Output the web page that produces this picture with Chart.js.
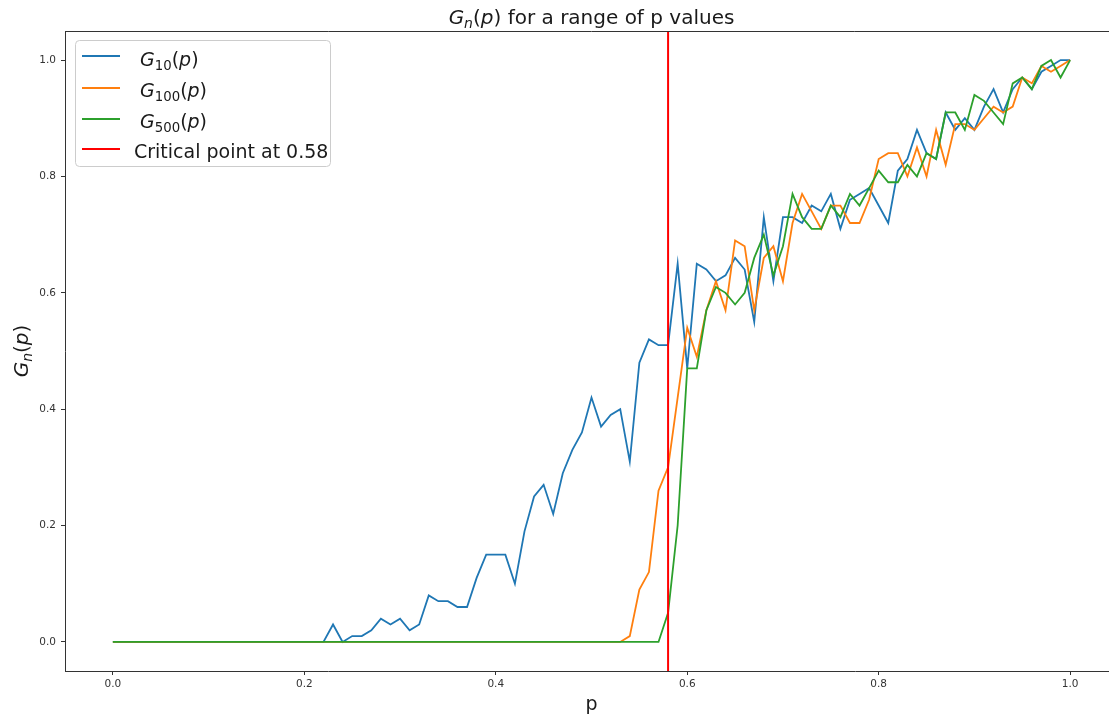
<!DOCTYPE html>
<html><head><meta charset="utf-8">
<script src="https://cdn.jsdelivr.net/npm/chart.js@4"></script>
<style>
html,body{margin:0;padding:0;overflow:hidden;background:#fff}
#wrap{position:relative;width:1130px;height:715px}
canvas{display:block}
</style></head><body><div id="wrap"><canvas id="c" width="1130" height="715"></canvas></div>
<script>
const pValues = [0.00,0.01,0.02,0.03,0.04,0.05,0.06,0.07,0.08,0.09,
 0.10,0.11,0.12,0.13,0.14,0.15,0.16,0.17,0.18,0.19,
 0.20,0.21,0.22,0.23,0.24,0.25,0.26,0.27,0.28,0.29,
 0.30,0.31,0.32,0.33,0.34,0.35,0.36,0.37,0.38,0.39,
 0.40,0.41,0.42,0.43,0.44,0.45,0.46,0.47,0.48,0.49,
 0.50,0.51,0.52,0.53,0.54,0.55,0.56,0.57,0.58,0.59,
 0.60,0.61,0.62,0.63,0.64,0.65,0.66,0.67,0.68,0.69,
 0.70,0.71,0.72,0.73,0.74,0.75,0.76,0.77,0.78,0.79,
 0.80,0.81,0.82,0.83,0.84,0.85,0.86,0.87,0.88,0.89,
 0.90,0.91,0.92,0.93,0.94,0.95,0.96,0.97,0.98,0.99,1.00];

const g10 = [0,0,0,0,0,0,0,0,0,0,
 0,0,0,0,0,0,0,0,0,0,
 0,0,0,0.03,0.00,0.01,0.01,0.02,0.04,0.03,
 0.04,0.02,0.03,0.08,0.07,0.07,0.06,0.06,0.11,0.15,
 0.15,0.15,0.10,0.19,0.25,0.27,0.22,0.29,0.33,0.36,
 0.42,0.37,0.39,0.40,0.31,0.48,0.52,0.51,0.51,0.65,
 0.47,0.65,0.64,0.62,0.63,0.66,0.64,0.55,0.73,0.62,
 0.73,0.73,0.72,0.75,0.74,0.77,0.71,0.76,0.77,0.78,
 0.75,0.72,0.81,0.83,0.88,0.84,0.83,0.91,0.88,0.90,
 0.88,0.92,0.95,0.91,0.95,0.97,0.95,0.98,0.99,1.00,1.00];

const g100 = [0,0,0,0,0,0,0,0,0,0,
 0,0,0,0,0,0,0,0,0,0,
 0,0,0,0,0,0,0,0,0,0,
 0,0,0,0,0,0,0,0,0,0,
 0,0,0,0,0,0,0,0,0,0,
 0,0,0,0,0.01,0.09,0.12,0.26,0.30,0.42,
 0.54,0.49,0.57,0.62,0.57,0.69,0.68,0.57,0.66,0.68,
 0.62,0.72,0.77,0.74,0.71,0.75,0.75,0.72,0.72,0.76,
 0.83,0.84,0.84,0.80,0.85,0.80,0.88,0.82,0.89,0.89,
 0.88,0.90,0.92,0.91,0.92,0.97,0.96,0.99,0.98,0.99,1.00];

const g500 = [0,0,0,0,0,0,0,0,0,0,
 0,0,0,0,0,0,0,0,0,0,
 0,0,0,0,0,0,0,0,0,0,
 0,0,0,0,0,0,0,0,0,0,
 0,0,0,0,0,0,0,0,0,0,
 0,0,0,0,0,0,0,0,0.05,0.20,
 0.47,0.47,0.57,0.61,0.60,0.58,0.60,0.66,0.70,0.63,
 0.68,0.77,0.73,0.71,0.71,0.75,0.73,0.77,0.75,0.78,
 0.81,0.79,0.79,0.82,0.80,0.84,0.83,0.91,0.91,0.88,
 0.94,0.93,0.91,0.89,0.96,0.97,0.95,0.99,1.00,0.97,1.00];

const criticalP = 0.58;
const seriesSubs = ['10','100','500'];
const criticalLabel = 'Critical point at 0.58';
const xTickValues = [0.0,0.2,0.4,0.6,0.8,1.0];
const xTickLabels = ['0.0','0.2','0.4','0.6','0.8','1.0'];
const yTickValues = [0.0,0.2,0.4,0.6,0.8,1.0];
const yTickLabels = ['0.0','0.2','0.4','0.6','0.8','1.0'];
const xLimits = [-0.05, 1.05];
const yLimits = [-0.05, 1.05];

const COLORS = ['#1f77b4','#ff7f0e','#2ca02c','#ff0000'];
const FONT = '"DejaVu Sans"';

function runsWidth(ctx, runs, size){
  let w = 0;
  for (const r of runs){
    const s = r.sub ? size*0.7 : size;
    ctx.font = (r.it?'italic ':'') + s + 'px ' + FONT;
    w += ctx.measureText(r.t).width;
  }
  return w;
}
function drawRuns(ctx, runs, x, y, size, align){
  const total = runsWidth(ctx, runs, size);
  let cx = align === 'center' ? x - total/2 : x;
  ctx.textBaseline = 'alphabetic';
  ctx.textAlign = 'left';
  for (const r of runs){
    const s = r.sub ? size*0.7 : size;
    ctx.font = (r.it?'italic ':'') + s + 'px ' + FONT;
    ctx.fillText(r.t, cx, y + (r.sub ? size*0.2 : 0));
    cx += ctx.measureText(r.t).width;
  }
}
function Gn(sub){ return [{t:'G',it:true},{t:sub,it:!/^\d+$/.test(sub),sub:true},{t:'('},{t:'p',it:true},{t:')'}]; }

const decor = {
  id:'decor',
  afterDraw(chart){
    const ctx = chart.ctx, a = chart.chartArea;
    ctx.save();
    ctx.fillStyle = '#1a1a1a';
    // title
    drawRuns(ctx, Gn('n').concat([{t:' for a range of p values'}]), (a.left+a.right)/2, 24, 20, 'center');
    // x label
    drawRuns(ctx, [{t:'p'}], (a.left+a.right)/2, 710, 19, 'center');
    // y label
    ctx.save();
    ctx.translate(28, (a.top+a.bottom)/2);
    ctx.rotate(-Math.PI/2);
    drawRuns(ctx, Gn('n'), 0, 0, 20, 'center');
    ctx.restore();
    // legend
    const bx=75.5, by=40.5, bw=255, bh=126;
    ctx.beginPath();
    ctx.roundRect(bx,by,bw,bh,4);
    ctx.fillStyle='rgba(255,255,255,0.8)'; ctx.fill();
    ctx.strokeStyle='#cccccc'; ctx.lineWidth=1; ctx.stroke();
    const handleY=[56,88,119,149], baseY=[66,97,128,158];
    for(let i=0;i<4;i++){
      ctx.strokeStyle=COLORS[i]; ctx.lineWidth=2;
      ctx.beginPath(); ctx.moveTo(82,handleY[i]); ctx.lineTo(120,handleY[i]); ctx.stroke();
      ctx.fillStyle='#1a1a1a';
      if(i<3) drawRuns(ctx, [{t:' '}].concat(Gn(seriesSubs[i])), 134, baseY[i], 19, 'left');
      else drawRuns(ctx, [{t:criticalLabel}], 134, baseY[i], 19, 'left');
    }
    // keep the empty right margin of the plot clean
    const xr = chart.scales.x.getPixelForValue(xTickValues[xTickValues.length-1]) + 6;
    ctx.fillStyle = '#ffffff';
    ctx.fillRect(xr, Math.round(a.top)+1, a.right - xr + 20, Math.round(a.bottom - a.top) - 1);
    // top spine (right spine lies outside the visible page)
    ctx.strokeStyle = '#333'; ctx.lineWidth = 1;
    ctx.beginPath();
    ctx.moveTo(Math.round(a.left), Math.round(a.top)+0.5);
    ctx.lineTo(Math.round(a.right), Math.round(a.top)+0.5);
    ctx.stroke();
    ctx.restore();
  }
};

const mk = (arr)=>pValues.map((p,i)=>({x:p,y:arr[i]}));
const lineDs = (label, arr, color, order)=>({label, data:mk(arr), borderColor:color, backgroundColor:color, borderWidth:1.8, pointRadius:0, fill:false, tension:0, order});

new Chart(document.getElementById('c').getContext('2d'), {
  type:'line',
  data:{datasets:[
    lineDs('G10', g10, COLORS[0], 4),
    lineDs('G100', g100, COLORS[1], 3),
    lineDs('G500', g500, COLORS[2], 2),
    {label:criticalLabel, data:yLimits.map(y=>({x:criticalP,y})), borderColor:COLORS[3], borderWidth:2, pointRadius:0, fill:false, order:1}
  ]},
  options:{
    responsive:false, animation:false, devicePixelRatio:1,
    layout:{padding:{left:0,right:12,top:31,bottom:0}},
    plugins:{legend:{display:false}, title:{display:false}, tooltip:{enabled:false}},
    scales:{
      x:{type:'linear', min:xLimits[0], max:xLimits[1], bounds:'data',
        afterBuildTicks:s=>{s.ticks = xTickValues.map(v=>({value:v}));},
        afterFit:s=>{s.height=44;},
        grid:{drawOnChartArea:false, tickLength:4, tickColor:'#333', tickWidth:1},
        border:{color:'#333', width:1},
        ticks:{padding:3, color:'#333', font:{family:'DejaVu Sans', size:10.5}, maxRotation:0, autoSkip:false, callback:(v,i)=>xTickLabels[i]}},
      y:{type:'linear', min:yLimits[0], max:yLimits[1], bounds:'data',
        afterBuildTicks:s=>{s.ticks = yTickValues.map(v=>({value:v}));},
        afterFit:s=>{s.width=65;},
        grid:{drawOnChartArea:false, tickLength:4, tickColor:'#333', tickWidth:1},
        border:{color:'#333', width:1},
        ticks:{padding:5, color:'#333', font:{family:'DejaVu Sans', size:10.5}, autoSkip:false, callback:(v,i)=>yTickLabels[i]}}
    }
  },
  plugins:[decor]
});
</script></body></html>
